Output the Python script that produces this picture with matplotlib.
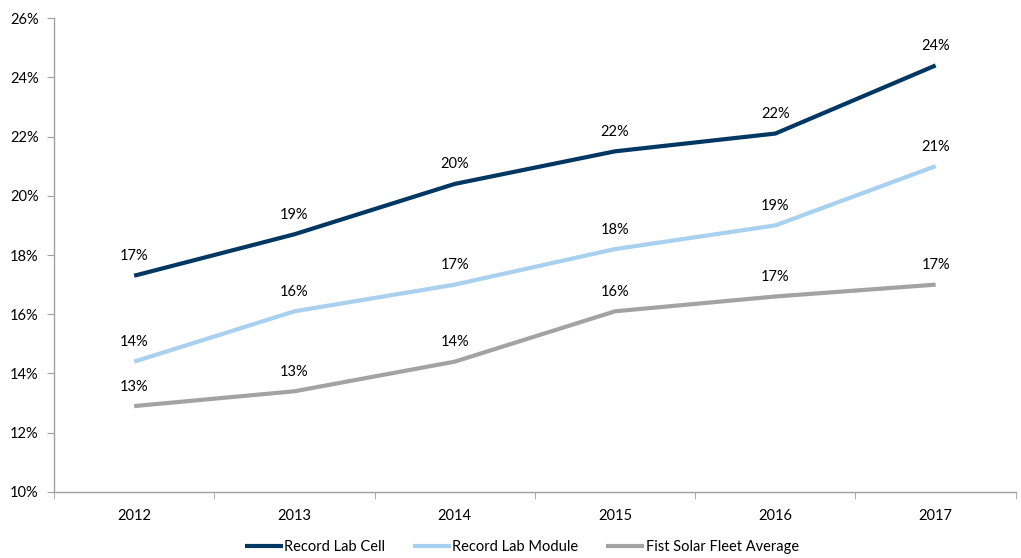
import matplotlib.pyplot as plt
from matplotlib.ticker import FixedLocator, PercentFormatter

plt.rcParams['font.family'] = ['Lato', 'DejaVu Sans']

# 数据
years = ['2012', '2013', '2014', '2015', '2016', '2017']
record_cell = [17.3, 18.7, 20.4, 21.5, 22.1, 24.4]
record_module = [14.4, 16.1, 17.0, 18.2, 19.0, 21.0]
fleet_avg = [12.9, 13.4, 14.4, 16.1, 16.6, 17.0]
series_names = ['Record Lab Cell', 'Record Lab Module', 'Fist Solar Fleet Average']
colors = ['#003763', '#a8d0ef', '#a3a3a3']

fig = plt.figure(figsize=(10.21, 5.58), dpi=100)
ax = fig.add_axes([0.0529, 0.1183, 0.942, 0.8494])

x = list(range(len(years)))
for vals, name, c in zip([record_cell, record_module, fleet_avg], series_names, colors):
    ax.plot(x, vals, color=c, lw=3, label=name, solid_capstyle='butt')
    for xi, v in zip(x, vals):
        ax.annotate(f'{v:.0f}%', (xi, v), xytext=(0, 14), textcoords='offset points',
                    ha='center', va='center', fontsize=10.5, color='black')

ax.set_xlim(-0.5, 5.5)
ax.set_ylim(10, 26)
ax.set_yticks(range(10, 27, 2))
ax.yaxis.set_major_formatter(PercentFormatter(decimals=0))
ax.set_xticks(x)
ax.set_xticklabels(years)
ax.xaxis.set_minor_locator(FixedLocator([i - 0.5 for i in range(len(years) + 1)]))
ax.tick_params(axis='x', which='major', length=0, pad=12, labelsize=10.5)
ax.tick_params(axis='x', which='minor', length=5, color='#a0a0a0', direction='out')
ax.tick_params(axis='y', length=5, color='#a0a0a0', labelsize=10.5, pad=6)

for s in ['top', 'right']:
    ax.spines[s].set_visible(False)
for s in ['left', 'bottom']:
    ax.spines[s].set_color('#a0a0a0')
    ax.spines[s].set_linewidth(1)

ax.legend(loc='center', bbox_to_anchor=(0.4865, -0.117), ncol=3, frameon=False,
          fontsize=10.5, handlelength=2.6, handletextpad=0.1, columnspacing=1.9,
          borderpad=0.2)

fig.savefig('out.png', dpi=100)
